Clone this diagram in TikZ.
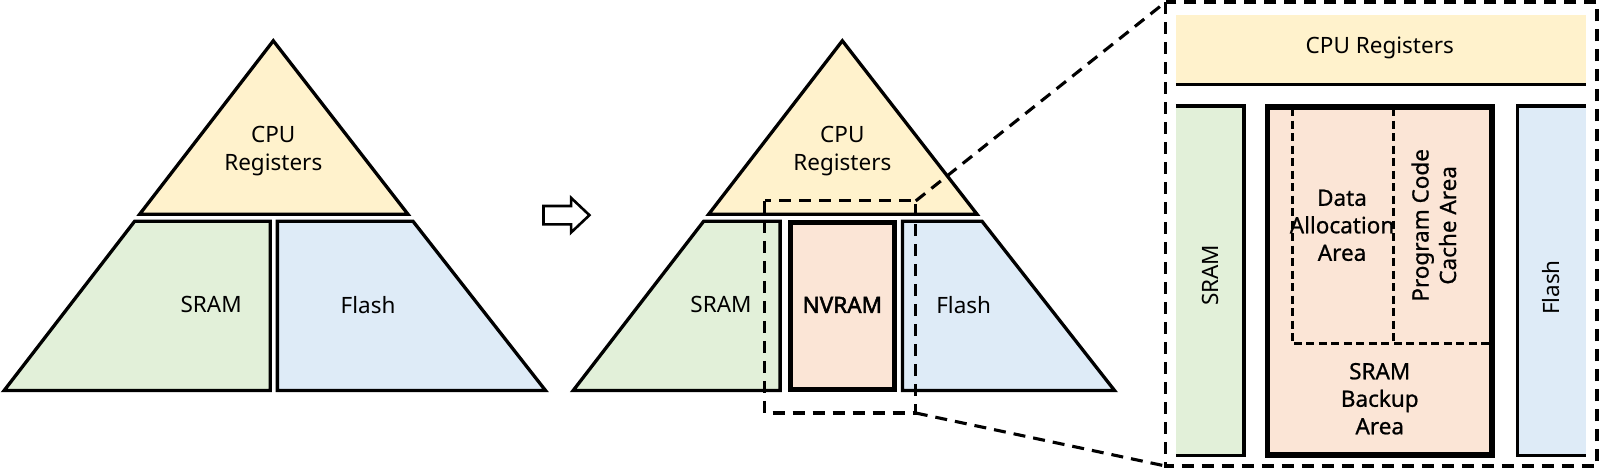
\documentclass[tikz,border=0pt]{standalone}
\usepackage{fontspec}
\setmainfont{Noto Sans}
\newfontfamily\nvbold{Noto Sans}[FakeBold=2.2]
\newfontfamily\midfont{Noto Sans}[FakeBold=0.8]
\definecolor{cpuY}{HTML}{FFF2CC}
\definecolor{sramG}{HTML}{E2F0D9}
\definecolor{flashB}{HTML}{DEEBF7}
\definecolor{nvP}{HTML}{FBE5D6}
\begin{document}
\begin{tikzpicture}[x=1.0198pt,y=-1.0198pt,line join=miter,
  part/.style={draw=black,line width=3.3pt},
  edge/.style={draw=black,line width=3.3pt},
  lbl/.style={font=\fontsize{22.5}{28}\selectfont,align=center,inner sep=0pt},
  dlbl/.style={font=\fontsize{22.5}{27.5}\selectfont\midfont,align=center,inner sep=0pt},
  outerdash/.style={line width=3.1pt,dash pattern=on 12pt off 8pt},
  innerdash/.style={line width=3pt,dash pattern=on 8pt off 4.5pt}]
\useasboundingbox (0,0) rectangle (1568,459);

% left pyramid
\filldraw[part,fill=cpuY] (268,40) -- (400,210) -- (137,210) -- cycle;
\filldraw[part,fill=sramG] (132,217) -- (265,217) -- (265,383) -- (4,383) -- cycle;
\filldraw[part,fill=flashB] (272,217) -- (405,217) -- (535,383) -- (272,383) -- cycle;
\node[lbl] (lcpu) at (268,148) {CPU\\Registers};
\node[lbl] (lsram) at (207,299) {SRAM};
\node[lbl] (lflash) at (361,299) {Flash};

% arrow
\draw[line width=2.6pt,fill=white] (533,202) -- (560,202) -- (560,194) -- (578,211) -- (560,228) -- (560,220) -- (533,220) -- cycle;

% middle pyramid
\filldraw[part,fill=cpuY] (826,40) -- (958,210) -- (695,210) -- cycle;
\filldraw[part,fill=sramG] (690,217) -- (765,217) -- (765,383) -- (562,383) -- cycle;
\filldraw[part,fill=flashB] (885,217) -- (963,217) -- (1093,383) -- (885,383) -- cycle;
\filldraw[draw=black,line width=5.5pt,fill=nvP] (775,218) rectangle (877,382);
\node[lbl] (mcpu) at (826,148) {CPU\\Registers};
\node[lbl] (msram) at (707,299) {SRAM};
\node[lbl,font=\fontsize{22.5}{28}\selectfont\nvbold] (mnv) at (826,299) {NVRAM};
\node[lbl] (mflash) at (945,299) {Flash};

% zoom box
\coordinate (zs1) at (750,197);
\coordinate (zs2) at (898,405);
\coordinate (zb1) at (1143,2);
\coordinate (zb2) at (1566,457);
\draw[outerdash] (zs1) rectangle (zs2);
\draw[outerdash] (zs1 -| zs2) -- (zb1);
\draw[outerdash] (zs2) -- (zb1 |- zb2);
\draw[outerdash] (zb1) rectangle (zb2);

% detail
\fill[cpuY] (1153,15) rectangle (1555,83);
\draw[edge] (1153,83) -- (1555,83);
\node[lbl] (dcpu) at (1353,47) {CPU Registers};

\fill[sramG] (1153,104) rectangle (1220,447);
\draw[edge] (1153,104) -- (1220,104) -- (1220,447) -- (1153,447);
\node[lbl,rotate=90] (dsram) at (1187,270) {SRAM};

\fill[flashB] (1488,104) rectangle (1555,447);
\draw[edge] (1555,104) -- (1488,104) -- (1488,447) -- (1555,447);
\node[lbl,rotate=90] (dflash) at (1521,282) {Flash};

\filldraw[draw=black,line width=5.5pt,fill=nvP] (1243,105) rectangle (1463,446);
\draw[innerdash] (1267,106) -- (1267,337) -- (1462,337);
\draw[innerdash] (1366,106) -- (1366,337);
\node[dlbl] (ddata) at (1316,221) {Data\\Allocation\\Area};
\node[dlbl,rotate=90] (dprog) at (1406,221) {Program Code\\Cache Area};
\node[dlbl] (dbackup) at (1353,391) {SRAM\\Backup\\Area};
\end{tikzpicture}
\end{document}
